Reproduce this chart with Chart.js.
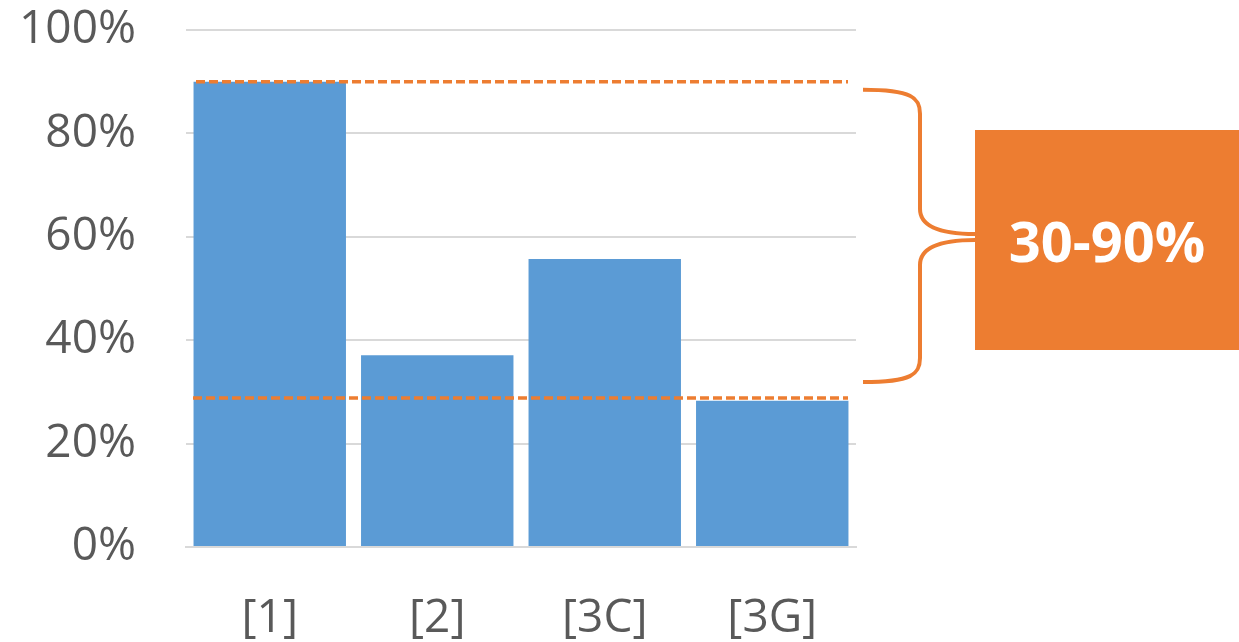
<!DOCTYPE html>
<html>
<head>
<meta charset="utf-8">
<script src="https://cdn.jsdelivr.net/npm/chart.js@4"></script>
<style>
  html, body { margin: 0; padding: 0; background: #fff; }
  #wrap { position: relative; width: 1239px; height: 642px; }
  #rangeBox {
    position: absolute; left: 975px; top: 130px; width: 264px; height: 220px;
    background: #ED7D31; color: #fff; font-family: "Open Sans", sans-serif;
    font-weight: bold; font-size: 56px; display: flex; align-items: center;
    justify-content: center;
  }
</style>
</head>
<body>
<div id="wrap">
  <canvas id="chart" width="1239" height="642"></canvas>
  <div id="rangeBox">30-90%</div>
</div>
<script>
// data
var categories = ["[1]", "[2]", "[3C]", "[3G]"];
var shares = [90, 37.1, 55.7, 28.3];
var rangeLow = 28.8;
var rangeHigh = 90;
var yTicks = [0, 20, 40, 60, 80, 100];

var orange = "#ED7D31";
var gray = "#595959";

// dashed range lines + curly brace, placed through the y scale
var rangePlugin = {
  id: "rangePlugin",
  afterDatasetsDraw: function (chart) {
    var ctx = chart.ctx;
    var y = chart.scales.y;
    var area = chart.chartArea;
    var yHi = y.getPixelForValue(rangeHigh);
    var yLo = y.getPixelForValue(rangeLow);

    ctx.save();
    ctx.strokeStyle = orange;
    ctx.lineWidth = 3.5;
    ctx.setLineDash([9, 4]);
    ctx.beginPath();
    ctx.moveTo(area.left + 10, yHi);
    ctx.lineTo(area.right - 8, yHi);
    ctx.moveTo(area.left + 7, yLo);
    ctx.lineTo(area.right - 8, yLo);
    ctx.stroke();

    // brace
    ctx.setLineDash([]);
    ctx.lineWidth = 4;
    var x0 = area.right + 7;
    var xm = x0 + 57;
    var xt = x0 + 112;
    var top = yHi + 8;
    var bot = yLo - 16;
    var mid = (yHi + yLo) / 2 - 3;
    ctx.beginPath();
    ctx.moveTo(x0, top);
    ctx.bezierCurveTo(xm - 8, top, xm, top + 8, xm, top + 24);
    ctx.lineTo(xm, mid - 28);
    ctx.bezierCurveTo(xm, mid - 8, xt - 30, mid - 3, xt, mid - 3);
    ctx.moveTo(xt, mid + 3);
    ctx.bezierCurveTo(xt - 30, mid + 3, xm, mid + 8, xm, mid + 28);
    ctx.lineTo(xm, bot - 24);
    ctx.bezierCurveTo(xm, bot - 8, xm - 8, bot, x0, bot);
    ctx.stroke();
    ctx.restore();
  }
};

var ctx = document.getElementById("chart").getContext("2d");

new Chart(ctx, {
  type: "bar",
  data: {
    labels: categories,
    datasets: [
      {
        data: shares,
        backgroundColor: "#5B9BD5",
        borderWidth: 0,
        categoryPercentage: 1,
        barPercentage: 0.91
      }
    ]
  },
  options: {
    responsive: false,
    animation: false,
    layout: {
      padding: { top: 30, right: 383, left: 0, bottom: 0 }
    },
    plugins: {
      legend: { display: false },
      tooltip: { enabled: false }
    },
    scales: {
      x: {
        grid: { display: false },
        border: { display: true, color: "#D9D9D9", width: 2 },
        ticks: {
          color: gray,
          font: { family: "Open Sans", size: 46 },
          padding: 36
        },
        afterFit: function (scale) {
          scale.height = 95;
        }
      },
      y: {
        min: 0,
        max: 100,
        afterBuildTicks: function (scale) {
          scale.ticks = yTicks.map(function (v) { return { value: v }; });
        },
        grid: { color: "#D9D9D9", lineWidth: 2, drawTicks: false },
        border: { display: false },
        ticks: {
          color: gray,
          font: { family: "Open Sans", size: 46 },
          padding: 50,
          callback: function (value) {
            return value + "%";
          }
        },
        afterFit: function (scale) {
          scale.width = 186;
          scale.paddingTop = 0;
          scale.paddingBottom = 0;
        }
      }
    }
  },
  plugins: [rangePlugin]
});
</script>
</body>
</html>
